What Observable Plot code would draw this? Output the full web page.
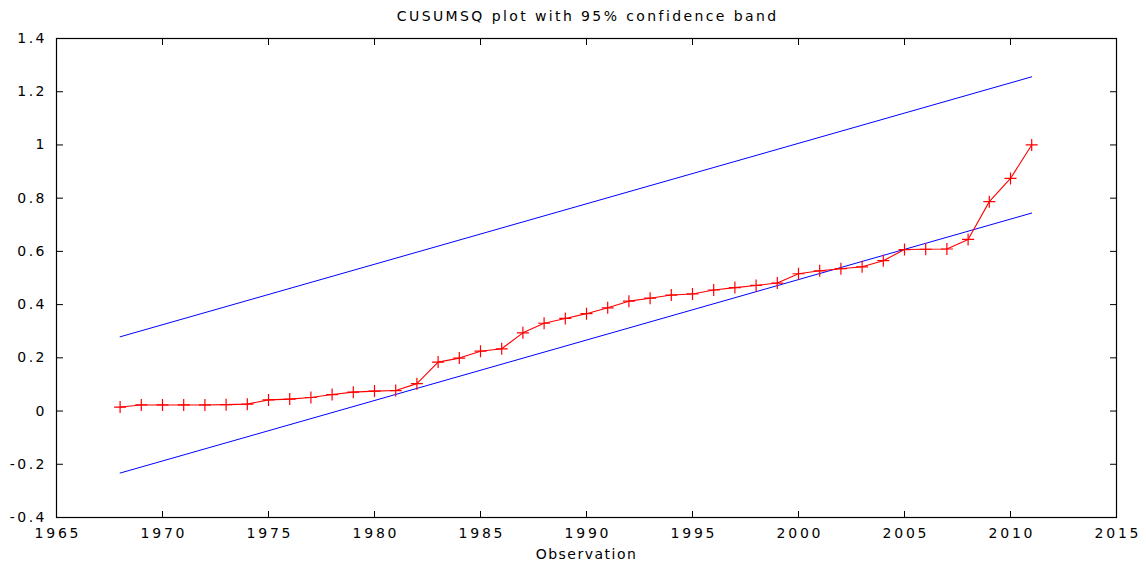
<!DOCTYPE html>
<html>
<head>
<meta charset="utf-8">
<script src="https://cdn.jsdelivr.net/npm/d3@7"></script>
<script src="https://cdn.jsdelivr.net/npm/@observablehq/plot@0.6"></script>
<style>
  html, body { margin: 0; padding: 0; background: #ffffff; }
  #chart svg text { letter-spacing: 1.5px; }
  #chart svg g.title text { letter-spacing: 2.4px; }
  #chart svg g.xlabels text { letter-spacing: 2.8px; }
  #chart svg g.ylabels text { letter-spacing: 2.5px; }
</style>
</head>
<body>
<div id="chart"></div>
<script>
// Observation years
const years = [
  1968, 1969, 1970, 1971, 1972, 1973, 1974, 1975, 1976, 1977, 1978,
  1979, 1980, 1981, 1982, 1983, 1984, 1985, 1986, 1987, 1988, 1989,
  1990, 1991, 1992, 1993, 1994, 1995, 1996, 1997, 1998, 1999, 2000,
  2001, 2002, 2003, 2004, 2005, 2006, 2007, 2008, 2009, 2010, 2011
];

// Cumulative sum of squared recursive residuals (normalised)
const cusumsq = [
  0.015, 0.023, 0.023, 0.023, 0.023, 0.024, 0.026, 0.042, 0.045, 0.051, 0.062,
  0.071, 0.075, 0.077, 0.103, 0.184, 0.199, 0.225, 0.234, 0.294, 0.330, 0.348,
  0.366, 0.388, 0.413, 0.424, 0.436, 0.440, 0.455, 0.464, 0.472, 0.481, 0.516,
  0.527, 0.535, 0.542, 0.565, 0.607, 0.608, 0.609, 0.645, 0.787, 0.874, 1.000
];

// 95% confidence band end points
const bandYears = [1968, 2011];
const bandUpper = [0.279, 1.256];
const bandLower = [-0.233, 0.744];

// Axis ticks and labels
const xTicks = [1965, 1970, 1975, 1980, 1985, 1990, 1995, 2000, 2005, 2010, 2015];
const xTickLabels = ["1965", "1970", "1975", "1980", "1985", "1990", "1995", "2000", "2005", "2010", "2015"];
const yTicks = [-0.4, -0.2, 0, 0.2, 0.4, 0.6, 0.8, 1, 1.2, 1.4];
const yTickLabels = ["-0.4", "-0.2", "0", "0.2", "0.4", "0.6", "0.8", "1", "1.2", "1.4"];

const titleText = "CUSUMSQ plot with 95% confidence band";
const xLabelText = "Observation";

const rows = years.map((year, i) => ({year, value: cusumsq[i]}));
const upperRows = bandYears.map((year, i) => ({year, value: bandUpper[i]}));
const lowerRows = bandYears.map((year, i) => ({year, value: bandLower[i]}));

// thin "+" marker drawn as two strokes
const plusSymbol = {
  draw(ctx, size) {
    const r = 6;
    ctx.moveTo(-r, 0); ctx.lineTo(r, 0);
    ctx.moveTo(0, -r); ctx.lineTo(0, r);
  }
};

const xFmt = d => xTickLabels[xTicks.indexOf(d)];
const yFmt = d => yTickLabels[yTicks.findIndex(t => Math.abs(t - d) < 1e-9)];

const chart = Plot.plot({
  width: 1146,
  height: 566,
  marginLeft: 56,
  marginRight: 30,
  marginTop: 38,
  marginBottom: 49,
  style: {fontFamily: "DejaVu Sans", fontSize: "14px", color: "#000", background: "#fff"},
  x: {domain: [1965, 2015], label: null},
  y: {domain: [-0.4, 1.4], label: null},
  marks: [
    Plot.line(upperRows, {x: "year", y: "value", stroke: "#0000ff", strokeWidth: 1}),
    Plot.line(lowerRows, {x: "year", y: "value", stroke: "#0000ff", strokeWidth: 1}),
    Plot.line(rows, {x: "year", y: "value", stroke: "#ff0000", strokeWidth: 1.1}),
    Plot.dot(rows, {x: "year", y: "value", symbol: plusSymbol, r: 6, stroke: "#ff0000", fill: "none", strokeWidth: 1.2}),
    // inward ticks on all four sides
    Plot.axisX({anchor: "bottom", ticks: xTicks, tickSize: 6, dy: -6, text: null, label: null}),
    Plot.axisX({anchor: "top", ticks: xTicks, tickSize: 6, dy: 6, text: null, label: null}),
    Plot.axisY({anchor: "left", ticks: yTicks, tickSize: 7, dx: 7, text: null, label: null}),
    Plot.axisY({anchor: "right", ticks: yTicks, tickSize: 7, dx: -7, text: null, label: null}),
    // tick labels
    Plot.axisX({anchor: "bottom", ticks: xTicks, tickSize: 0, tickPadding: 11, dx: 1.4, tickFormat: xFmt, label: null, className: "xlabels"}),
    Plot.axisY({anchor: "left", ticks: yTicks, tickSize: 0, tickPadding: 9.5, tickFormat: yFmt, label: null, className: "ylabels"}),
    Plot.frame({stroke: "#000", strokeWidth: 1.2}),
    Plot.text([titleText], {frameAnchor: "top", lineAnchor: "middle", dy: -22, dx: 1.2, text: d => d, fontSize: 14, className: "title"}),
    Plot.text([xLabelText], {frameAnchor: "bottom", lineAnchor: "middle", dy: 37, text: d => d, fontSize: 14})
  ]
});

document.getElementById("chart").appendChild(chart);
</script>
</body>
</html>
